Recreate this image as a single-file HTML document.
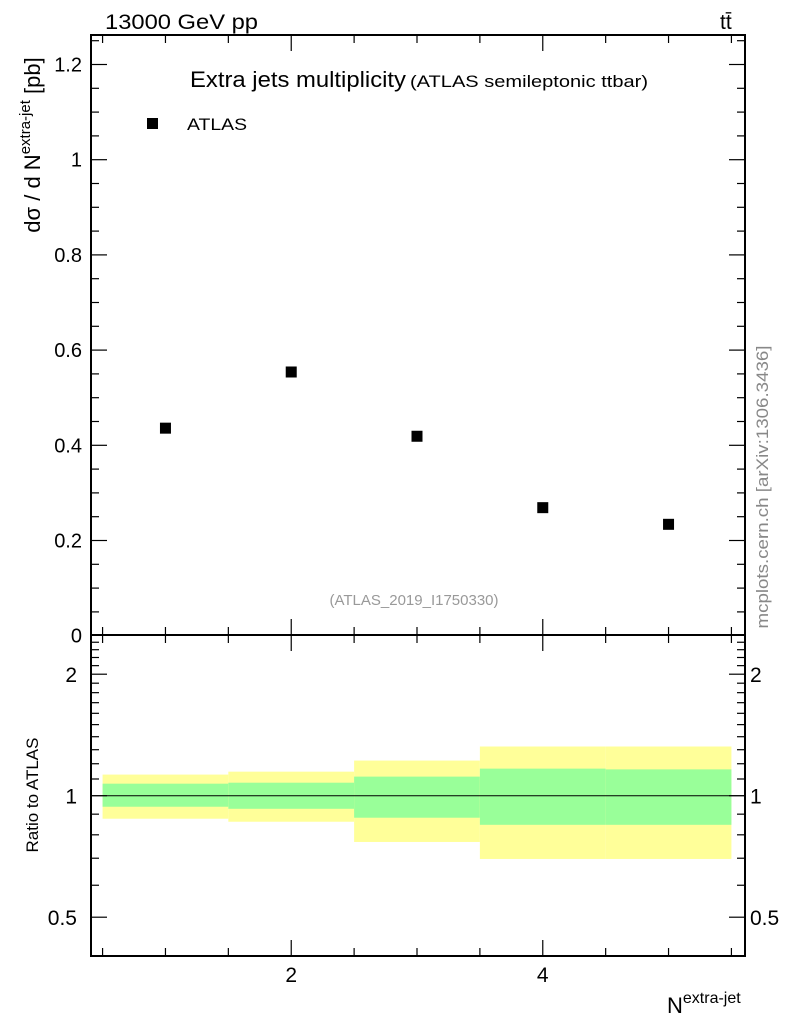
<!DOCTYPE html>
<html><head><meta charset="utf-8"><style>
body{margin:0;background:#fff;}
svg text{font-family:"Liberation Sans",sans-serif;}
</style></head><body>
<svg id="c" width="786" height="1024" xmlns="http://www.w3.org/2000/svg">
<g id="bands"></g>
<g id="marks"></g>
<g id="axes"></g>
<text x="105" y="29" font-size="21" textLength="153" lengthAdjust="spacingAndGlyphs">13000 GeV pp</text>
<text x="720" y="29" font-size="21">tt̄</text>
<text x="190" y="87" font-size="22" textLength="216" lengthAdjust="spacingAndGlyphs">Extra jets multiplicity</text>
<text x="410" y="87" font-size="17" textLength="238" lengthAdjust="spacingAndGlyphs">(ATLAS semileptonic ttbar)</text>
<rect x="147" y="118" width="11" height="11" fill="#000"/>
<text x="187" y="130" font-size="17" textLength="60" lengthAdjust="spacingAndGlyphs">ATLAS</text>
<text x="414" y="605" font-size="15" fill="#999" text-anchor="middle">(ATLAS_2019_I1750330)</text>
<text transform="translate(768,487) rotate(-90)" font-size="17" fill="#888" text-anchor="middle" textLength="283" lengthAdjust="spacingAndGlyphs">mcplots.cern.ch [arXiv:1306.3436]</text>
<text transform="translate(40,145) rotate(-90)" font-size="22" text-anchor="middle">dσ / d N<tspan font-size="15" dy="-10">extra-jet</tspan><tspan dy="10"> [pb]</tspan></text>
<text transform="translate(38,795) rotate(-90)" font-size="17" text-anchor="middle">Ratio to ATLAS</text>
<text x="667" y="1013" font-size="22">N<tspan font-size="16" dy="-10">extra-jet</tspan></text>
</svg>
<script>
const categories=[1,2,3,4,5];
const values=[0.436,0.554,0.419,0.269,0.234];
const yellowHi=[1.128,1.147,1.222,1.324,1.324];
const yellowLo=[0.877,0.862,0.768,0.697,0.697];
const greenHi=[1.071,1.077,1.115,1.167,1.162];
const greenLo=[0.939,0.928,0.882,0.847,0.847];
const yTicks=[0,0.2,0.4,0.6,0.8,1,1.2];
const yTickLabels=["0","0.2","0.4","0.6","0.8","1","1.2"];
const xTicks=[2,4];
const rTicks=[0.5,1,2];
const rTickLabels=["0.5","1","2"];
const NS="http://www.w3.org/2000/svg";
const L=91,R=745,T=35,M=635,B=956;
const X=v=>L+(v-0.4)/(5.6-0.4)*(R-L)-1;
const Y=v=>635.7-v*476;
const RY=v=>795.7-Math.log2(v)*121.5;
function el(p,t,a){const e=document.createElementNS(NS,t);for(const k in a)e.setAttribute(k,a[k]);p.appendChild(e);return e;}
const bands=document.getElementById('bands'),marks=document.getElementById('marks'),axes=document.getElementById('axes');
categories.forEach((c,i)=>{
 const x0=X(c-0.5),x1=X(c+0.5);
 const y=el(bands,'rect',{x:x0,y:RY(yellowHi[i]),width:x1-x0,height:RY(yellowLo[i])-RY(yellowHi[i]),fill:'#ffff99'});
 
 
 const g=el(bands,'rect',{x:x0,y:RY(greenHi[i]),width:x1-x0,height:RY(greenLo[i])-RY(greenHi[i]),fill:'#99ff99'});
 
 
 const p=el(marks,'rect',{x:X(c)-5.5,y:Y(values[i])-5.5,width:11,height:11,fill:'#000'});
 
 
});
el(axes,'line',{x1:L,x2:R,y1:RY(1),y2:RY(1),stroke:'#000','stroke-width':1});
el(axes,'rect',{x:L,y:T,width:R-L,height:M-T,fill:'none',stroke:'#000','stroke-width':2});
el(axes,'rect',{x:L,y:M,width:R-L,height:B-M,fill:'none',stroke:'#000','stroke-width':2});
function ln(x1,y1,x2,y2){el(axes,'line',{x1,y1,x2,y2,stroke:'#000','stroke-width':1.2});}
for(let v=0.5;v<=5.51;v+=0.5){const x=X(v);const maj=Math.abs(v-Math.round(v))<1e-6&&Math.round(v)%2==0;const len=maj?16:8;
 ln(x,T,x,T+len);ln(x,M,x,M-len);ln(x,M,x,M+len);ln(x,B,x,B-len);}
xTicks.forEach(v=>{const t=el(axes,'text',{x:X(v),y:982,'font-size':21,'text-anchor':'middle'});t.textContent=v;
 
 });
for(let v=0.05;v<1.26;v+=0.05){const y=Y(v);const maj=Math.abs(v*5-Math.round(v*5))<1e-6;const len=maj?16:8;
 ln(L,y,L+len,y);ln(R,y,R-len,y);}
yTicks.forEach((v,i)=>{const t=el(axes,'text',{x:82,y:Y(v)+7,'font-size':20,'text-anchor':'end'});t.textContent=yTickLabels[i];
 
 });
const rMinor=[0.6,0.7,0.8,0.9,1.1,1.2,1.3,1.4,1.5,1.6,1.7,1.8,1.9,2.1,2.2,2.3,2.4];
rMinor.forEach(v=>{const y=RY(v);ln(L,y,L+8,y);ln(R,y,R-8,y);});
rTicks.forEach((v,i)=>{const y=RY(v);ln(L,y,L+16,y);ln(R,y,R-16,y);
 const t=el(axes,'text',{x:77,y:y+8,'font-size':21,'text-anchor':'end'});t.textContent=rTickLabels[i];
 
 
 const t2=el(axes,'text',{x:750,y:y+8,'font-size':21});t2.textContent=rTickLabels[i];
 
 });
</script>
</body></html>
